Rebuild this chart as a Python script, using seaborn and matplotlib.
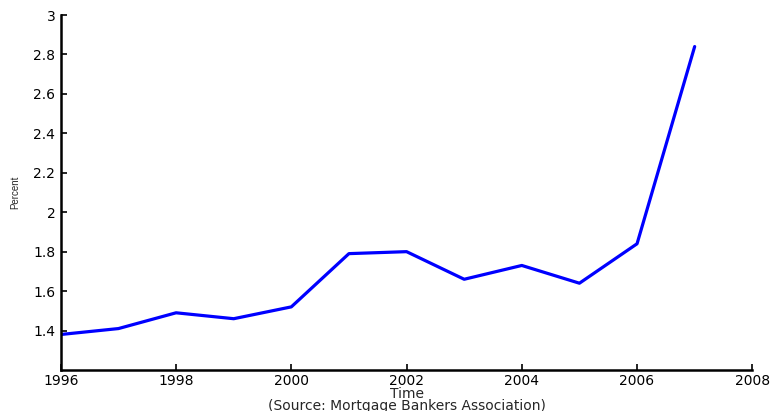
import matplotlib
matplotlib.use("Agg")
import matplotlib.pyplot as plt
import seaborn as sns
import pandas as pd

years = [1996, 1997, 1998, 1999, 2000, 2001, 2002, 2003, 2004, 2005, 2006, 2007]
percent = [1.38, 1.41, 1.49, 1.46, 1.52, 1.79, 1.80, 1.66, 1.73, 1.64, 1.84, 2.84]
x_ticks = [1996, 1998, 2000, 2002, 2004, 2006, 2008]
y_ticks = [1.4, 1.6, 1.8, 2.0, 2.2, 2.4, 2.6, 2.8, 3.0]
y_tick_labels = ["1.4", "1.6", "1.8", "2", "2.2", "2.4", "2.6", "2.8", "3"]


def main():
    sns.set_style("ticks")
    plt.rcParams['font.family'] = ['DejaVu Sans']

    df = pd.DataFrame({"Time": years, "Percent": percent})

    fig = plt.figure(figsize=(7.7, 4.11), dpi=100)
    ax = fig.add_axes([0.079, 0.0998, 0.898, 0.8637])
    sns.lineplot(data=df, x="Time", y="Percent", color="#0000ff", linewidth=2.3, ax=ax)

    ax.set_xlim(1996, 2008)
    ax.set_ylim(1.2, 3.0)
    ax.set_xticks(x_ticks)
    ax.set_xticklabels([str(t) for t in x_ticks], fontsize=10)
    ax.set_yticks(y_ticks)
    ax.set_yticklabels(y_tick_labels, fontsize=10)
    ax.tick_params(direction="in", length=4, width=1.2, colors="black")
    ax.tick_params(axis="y", pad=4)
    ax.tick_params(axis="x", pad=3)

    ax.set_xlabel("Time\n(Source: Mortgage Bankers Association)", fontsize=10,
                  labelpad=-1, linespacing=0.82)
    ax.set_ylabel("Percent", fontsize=7, labelpad=9, family="Liberation Sans")

    for side in ["top", "right"]:
        ax.spines[side].set_visible(False)
    for side in ["left", "bottom"]:
        ax.spines[side].set_linewidth(1.8)
        ax.spines[side].set_color("black")

    fig.savefig("out.png", dpi=100)
    plt.close(fig)


if __name__ == "__main__":
    main()
